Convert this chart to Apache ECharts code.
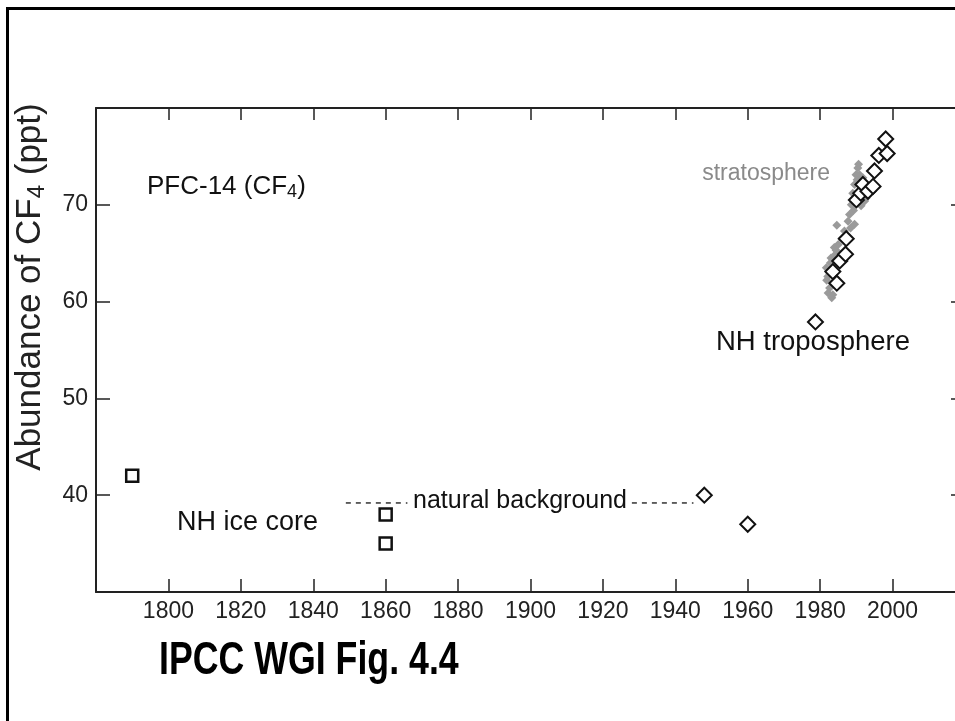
<!DOCTYPE html>
<html><head><meta charset="utf-8">
<script src="https://cdn.jsdelivr.net/npm/echarts@6/dist/echarts.min.js"></script>
<style>html,body{margin:0;padding:0;background:#fff}#c{width:955px;height:721px}</style>
</head><body><div id="c"></div>
<script>
// ---- axes ----
const xMin = 1780, xMax = 2020, xStep = 20;
const yMin = 30, yMax = 80, yStep = 10;
const xLabelsShown = [1800, 1820, 1840, 1860, 1880, 1900, 1920, 1940, 1960, 1980, 2000];
const yLabelsShown = [40, 50, 60, 70];

// ---- NH ice core (squares) ----
const iceYears  = [1790, 1860, 1860];
const iceValues = [42, 38, 35];

// ---- NH troposphere (open diamonds) ----
const tropoYears  = [1948, 1960, 1978.7, 1983.5, 1984.6, 1985.4, 1987.0, 1987.2, 1990.0, 1991.2, 1991.8, 1993.2, 1994.6, 1995.0, 1996.2, 1998.1, 1998.5];
const tropoValues = [40, 37, 57.9, 63.1, 61.9, 64.2, 64.9, 66.5, 70.5, 71.2, 72.1, 71.4, 71.9, 73.5, 75.1, 76.8, 75.3];

// ---- stratosphere (grey points) ----
const stratoYears  = [1982.2, 1982.6, 1983.2, 1983.5, 1981.8, 1982.1, 1982.5, 1983.0, 1981.7, 1982.8, 1983.5, 1984.0, 1983.0, 1984.4, 1983.9, 1985.0, 1985.8, 1984.5, 1986.2, 1987.2, 1986.7, 1984.6, 1987.7, 1988.4, 1989.5, 1988.1, 1988.6, 1989.2, 1989.0, 1989.6, 1990.3, 1991.3, 1992.3, 1992.7, 1989.5, 1990.2, 1989.9, 1990.4, 1990.9, 1991.8, 1990.6, 1991.2];
const stratoValues = [60.9, 61.4, 60.4, 60.7, 62.2, 62.6, 63.0, 63.4, 63.5, 64.0, 64.3, 64.8, 64.5, 65.3, 65.6, 65.9, 64.9, 63.8, 66.6, 66.2, 67.3, 67.9, 68.3, 67.6, 68.0, 69.0, 70.0, 69.4, 71.2, 70.6, 70.2, 69.9, 70.4, 70.7, 72.1, 72.6, 73.1, 73.8, 73.1, 72.8, 74.2, 71.6];

// ---- natural background dashed segments ----
const bgLevel = 39.2;
const bgDashA = [1849, 1866];
const bgDashB = [1928, 1945];

const FONT = '"Liberation Sans", Arial, Helvetica, sans-serif';
const zip = (a, b) => a.map((v, i) => [v, b[i]]);

const chart = echarts.init(document.getElementById('c'), null, {renderer: 'canvas'});

const axisLine = {show: true, onZero: false, lineStyle: {color: '#222', width: 2}};
const tickStyle = {color: '#222', width: 1.5};

chart.setOption({
  animation: false,
  backgroundColor: '#fff',
  grid: {left: 96, top: 108, width: 869, height: 484, containLabel: false, outerBoundsMode: 'none'},
  xAxis: [
    {type: 'value', min: xMin, max: xMax, interval: xStep, position: 'bottom',
     axisLine: axisLine, splitLine: {show: false},
     axisTick: {show: true, inside: true, length: 13, lineStyle: tickStyle},
     axisLabel: {show: true, margin: 8, fontSize: 23, color: '#222', fontFamily: FONT,
       showMinLabel: true, showMaxLabel: true,
       formatter: v => xLabelsShown.includes(v) ? String(v) : ''}},
    {type: 'value', min: xMin, max: xMax, interval: xStep, position: 'top',
     axisLine: axisLine, splitLine: {show: false},
     axisTick: {show: true, inside: true, length: 12, lineStyle: tickStyle},
     axisLabel: {show: false}}
  ],
  yAxis: [
    {type: 'value', min: yMin, max: yMax, interval: yStep, position: 'left',
     axisLine: axisLine, splitLine: {show: false},
     axisTick: {show: true, inside: true, length: 14, lineStyle: tickStyle},
     axisLabel: {show: true, margin: 8, fontSize: 23, color: '#222', fontFamily: FONT,
       formatter: v => yLabelsShown.includes(v) ? String(v) : ''}},
    {type: 'value', min: yMin, max: yMax, interval: yStep, position: 'right',
     axisLine: axisLine, splitLine: {show: false},
     axisTick: {show: true, inside: true, length: 14, lineStyle: tickStyle},
     axisLabel: {show: false}}
  ],
  series: [
    {type: 'line', data: bgDashA.map(x => [x, bgLevel]), showSymbol: false, symbol: 'none',
     lineStyle: {color: '#333', width: 1.5, type: [5, 5]}, z: 1},
    {type: 'line', data: bgDashB.map(x => [x, bgLevel]), showSymbol: false, symbol: 'none',
     lineStyle: {color: '#333', width: 1.5, type: [5, 5]}, z: 1},
    {type: 'scatter', data: zip(stratoYears, stratoValues), symbol: 'diamond', symbolSize: 9,
     itemStyle: {color: '#9a9a9a', opacity: 1}, z: 2},
    {type: 'scatter', data: zip(iceYears, iceValues), symbol: 'rect', symbolSize: 12,
     itemStyle: {color: '#fff', borderColor: '#111', borderWidth: 2.5, opacity: 1}, z: 3},
    {type: 'scatter', data: zip(tropoYears, tropoValues), symbol: 'diamond', symbolSize: 15,
     itemStyle: {color: '#fff', borderColor: '#111', borderWidth: 2, opacity: 1}, z: 4}
  ],
  graphic: [
    {type: 'rect', shape: {x: 7.5, y: 8.5, width: 1200, height: 1200},
     style: {fill: 'none', stroke: '#000', lineWidth: 3}, z: 10},
    {type: 'text', x: 30, y: 287, rotation: Math.PI / 2,
     style: {text: '{a|Abundance of CF}{s|4}{a| (ppt)}', align: 'center', verticalAlign: 'middle',
       rich: {a: {fontSize: 35, fontFamily: FONT, fill: '#222'},
              s: {fontSize: 24, fontFamily: FONT, fill: '#222', padding: [14, 0, 0, 0]}}}},
    {type: 'text', x: 147, y: 187,
     style: {text: '{a|PFC-14 (CF}{s|4}{a|)}', align: 'left', verticalAlign: 'middle',
       rich: {a: {fontSize: 26, fontFamily: FONT, fill: '#111'},
              s: {fontSize: 18, fontFamily: FONT, fill: '#111', padding: [10, 0, 0, 0]}}}},
    {type: 'text', x: 830, y: 174,
     style: {text: 'stratosphere', align: 'right', verticalAlign: 'middle', fontSize: 23, fontFamily: FONT, fill: '#8a8a8a'}},
    {type: 'text', x: 910, y: 342,
     style: {text: 'NH troposphere', align: 'right', verticalAlign: 'middle', fontSize: 27.5, fontFamily: FONT, fill: '#111'}},
    {type: 'text', x: 177, y: 523,
     style: {text: 'NH ice core', align: 'left', verticalAlign: 'middle', fontSize: 27, fontFamily: FONT, fill: '#111'}},
    {type: 'text', x: 520, y: 501,
     style: {text: 'natural background', align: 'center', verticalAlign: 'middle', fontSize: 25, fontFamily: FONT, fill: '#111'}},
    {type: 'text', x: 159, y: 661, scaleX: 0.76,
     style: {text: 'IPCC WGI Fig. 4.4', align: 'left', verticalAlign: 'middle', fontSize: 47, fontWeight: 'bold',
       fontFamily: FONT, fill: '#000'}}
  ]
});
</script>
</body></html>
